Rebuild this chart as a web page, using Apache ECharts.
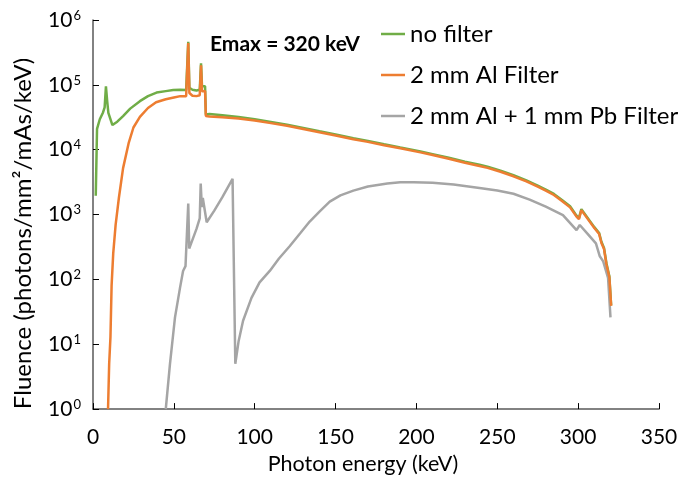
<!DOCTYPE html>
<html>
<head>
<meta charset="utf-8">
<script src="https://cdn.jsdelivr.net/npm/echarts@6/dist/echarts.min.js"></script>
<style>
  html, body { margin: 0; padding: 0; background: #ffffff; }
  #chart { width: 681px; height: 480px; }
</style>
</head>
<body>
<div id="chart"></div>
<script>
// X-ray spectra for a 320 kV tube: photon energy (keV) vs fluence (photons/mm²/mAs/keV)
const seriesNames = ['no filter', '2 mm Al Filter', '2 mm Al + 1 mm Pb Filter'];
const seriesColors = ['#70AD47', '#ED7D31', '#A5A5A5'];
const xTicks = [0, 50, 100, 150, 200, 250, 300, 350];

// Unfiltered beam
const noFilterEnergy = [1.7, 2.5, 4.2, 6.2, 7.2, 8.0, 8.8, 9.5, 12, 15, 18.6, 23, 29, 34, 39.3, 45, 49.6, 54, 57.6,
  58.0, 58.9, 59.6, 60.5, 61.5, 64, 66, 66.8, 67.4, 68.5, 69.3, 69.8,
  72, 80, 90, 100, 110, 120, 130, 140, 150, 161, 170, 180, 190, 202.5, 210, 220, 230, 239, 244, 252, 260, 268, 275,
  280, 285, 290, 295, 299, 300.5, 302, 306, 310, 313, 314.4, 316, 317.5, 319.3, 320.4];
const noFilterFluence = [1950, 21000, 29500, 37500, 45000, 95000, 55000, 37000, 24000, 27000, 33000, 43000, 56000, 67000, 76000, 80000, 83000, 84000, 83000,
  84000, 460000, 90000, 95000, 84000, 82000, 84000, 215000, 95000, 100000, 95000, 35000,
  35500, 34000, 32000, 29500, 26800, 24300, 21700, 19300, 17200, 15000, 13600, 12100, 10800, 9400, 8550, 7500, 6550, 5850, 5450, 4750, 4050, 3370, 2800,
  2430, 2080, 1680, 1340, 960, 880, 1210, 880, 640, 520, 380, 305, 177, 112, 40];

// 2 mm aluminium filtration
const alEnergy = [9.3, 10, 10.8, 11.5, 12.5, 14, 16, 18.6, 22, 25, 29, 34, 39, 45, 50, 54, 57.6,
  58.0, 58.9, 59.6, 60.5, 61.5, 64, 66, 66.8, 67.4, 68.5, 69.3, 69.8,
  72, 80, 90, 100, 110, 120, 130, 140, 150, 161, 170, 180, 190, 202.5, 210, 220, 230, 239, 244, 252, 260, 268, 275,
  280, 285, 290, 295, 299, 300.5, 302, 306, 310, 313, 314.4, 316, 317.5, 319.3, 320.4];
const alFluence = [1, 5, 13, 80, 250, 700, 1800, 5200, 12500, 22000, 32000, 44000, 54000, 60000, 64000, 67000, 67000,
  68000, 440000, 75000, 78000, 68000, 67000, 69000, 200000, 80000, 85000, 80000, 33000,
  32400, 31600, 30200, 28200, 25700, 23400, 20900, 18600, 16600, 14500, 13200, 11700, 10500, 9100, 8300, 7240, 6310, 5620, 5250, 4570, 3890, 3240, 2690,
  2340, 2000, 1620, 1290, 930, 850, 1170, 850, 620, 500, 365, 295, 170, 108, 39];

// 2 mm aluminium + 1 mm lead filtration
const pbEnergy = [45, 47.6, 50.7, 53.8, 55.7, 57.2, 57.8, 58.9, 59.5, 60.2, 62, 64, 66, 66.6, 67.3, 67.9, 68.7, 70.3,
  75, 80, 86.3, 88.0, 90, 92.8, 98, 103, 109.3, 115, 121.6, 128, 134, 140.2, 146.4, 153, 161, 170, 182, 190, 198.4,
  210, 223, 239, 250, 260, 270, 280, 290.6, 299, 301, 306, 311, 313.3, 315.5, 318.5, 320];
const pbFluence = [1, 5, 26, 74, 135, 160, 170, 1480, 300, 290, 440, 600, 870, 3000, 1300, 1800, 1900, 760,
  1150, 1850, 3550, 5, 11, 23, 52, 90, 135, 210, 325, 510, 780, 1120, 1580, 1980, 2340, 2700, 3000, 3150, 3160,
  3100, 2900, 2570, 2350, 2090, 1700, 1320, 980, 575, 690, 500, 360, 230, 190, 105, 26];

function pairs(xs, ys) {
  return xs.map((x, i) => [x, ys[i]]);
}

const FONT = 'Lato, "Open Sans", sans-serif';
const AXIS_COLOR = '#595959';

const chart = echarts.init(document.getElementById('chart'), null, { renderer: 'canvas' });

chart.setOption({
  backgroundColor: '#ffffff',
  animation: false,
  color: seriesColors,
  textStyle: { fontFamily: FONT, color: '#000000' },
  grid: { left: 93, right: 22, top: 20, bottom: 68, containLabel: false },
  legend: {
    orient: 'vertical',
    left: 381,
    top: 22,
    padding: 0,
    icon: 'rect',
    itemWidth: 24,
    itemHeight: 2.5,
    itemGap: 17,
    textStyle: { fontFamily: FONT, fontSize: 24, lineHeight: 24, color: '#000000' },
    data: seriesNames
  },
  graphic: [{
    type: 'text',
    left: 210,
    top: 34,
    style: { text: 'Emax = 320 keV', font: 'bold 21px ' + FONT, fill: '#000000' }
  }],
  xAxis: {
    type: 'value',
    min: 0,
    max: 350,
    interval: 50,
    name: 'Photon energy (keV)',
    nameLocation: 'middle',
    nameGap: 43,
    nameTextStyle: { fontFamily: FONT, fontSize: 21.5, color: '#000000', padding: [0, 26, 0, 0] },
    axisLine: { lineStyle: { color: AXIS_COLOR, width: 1.5 } },
    axisTick: { inside: true, length: 6, lineStyle: { color: '#000000', width: 1 } },
    axisLabel: {
      fontFamily: FONT, fontSize: 21, color: '#000000', margin: 18,
      formatter: v => (xTicks.indexOf(v) >= 0 ? String(v) : '')
    },
    splitLine: { show: false }
  },
  yAxis: {
    type: 'log',
    logBase: 10,
    min: 1,
    max: 1e6,
    splitNumber: 6,
    name: 'Fluence (photons/mm²/mAs/keV)',
    nameLocation: 'middle',
    nameGap: 58,
    nameTextStyle: { fontFamily: FONT, fontSize: 24, color: '#000000', padding: [0, 38, 0, 0] },
    axisLine: { show: true, lineStyle: { color: AXIS_COLOR, width: 1.5 } },
    axisTick: { show: true, inside: true, length: 6, lineStyle: { color: '#000000', width: 1 } },
    axisLabel: {
      margin: 12,
      formatter: v => '{b|10}{s|' + Math.round(Math.log10(v)) + '}',
      rich: {
        b: { fontFamily: FONT, fontSize: 21, color: '#000000' },
        s: { fontFamily: FONT, fontSize: 13, color: '#000000', verticalAlign: 'top', padding: [0, 0, 9, 1] }
      }
    },
    splitLine: { show: false }
  },
  series: [
    {
      name: seriesNames[0], type: 'line', data: pairs(noFilterEnergy, noFilterFluence),
      symbol: 'none', smooth: false, lineStyle: { width: 2.5, color: seriesColors[0] }, z: 2
    },
    {
      name: seriesNames[1], type: 'line', data: pairs(alEnergy, alFluence),
      symbol: 'none', smooth: false, lineStyle: { width: 2.5, color: seriesColors[1] }, z: 3
    },
    {
      name: seriesNames[2], type: 'line', data: pairs(pbEnergy, pbFluence),
      symbol: 'none', smooth: false, lineStyle: { width: 2.5, color: seriesColors[2] }, z: 2
    }
  ]
});
</script>
</body>
</html>
